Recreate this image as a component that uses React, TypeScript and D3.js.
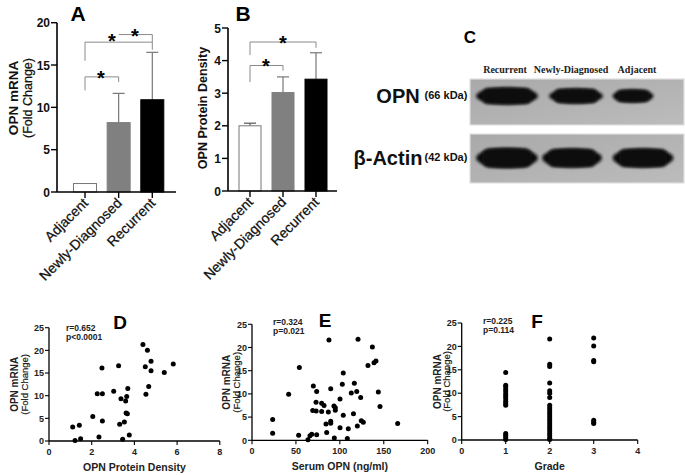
import React from 'react';
import * as d3 from 'd3';

// ---------- Data ----------
const groups = ['Adjacent', 'Newly-Diagnosed', 'Recurrent'];
const barFills = ['#ffffff', '#808080', '#000000'];
const mrnaMean = [1.0, 8.2, 10.9];
const mrnaUpper = [1.0, 11.65, 16.5];
const densityMean = [2.0, 3.02, 3.43];
const densityUpper = [2.08, 3.5, 4.24];
const mrnaTicks = [0, 5, 10, 15, 20];
const densityTicks = [0, 1, 2, 3, 4, 5];

const blotLanes = ['Recurrent', 'Newly-Diagnosed', 'Adjacent'];
const opnBandWidth = [62, 54, 41];
const opnBandHeight = [17, 15, 13];
const opnBandShift = [1, 5, -3];
const actinBandWidth = [62, 60, 61];
const actinBandHeight = [20, 19, 19];
const actinBandShift = [1, 1, 7];

const densityX = [1.11, 1.22, 1.42, 1.48, 2.05, 2.34, 2.26, 2.5, 2.48, 2.5, 3.03, 3.26, 3.31, 3.37, 3.53, 3.45, 3.59, 3.64, 3.61, 3.67, 3.69, 3.76, 4.4, 4.61, 4.51, 4.78, 4.78, 4.67, 4.54, 5.4, 5.82];
const densityY = [3.1, 0.1, 3.5, 0.5, 5.4, 0.9, 10.4, 10.4, 16.1, 4.4, 11.0, 16.6, 3.7, 9.3, 4.2, 0.4, 8.8, 9.8, 6.2, 6.0, 11.6, 1.3, 21.3, 20.0, 16.4, 17.6, 15.5, 12.0, 10.3, 15.1, 17.0];

const serumX = [23.5, 23.5, 41.7, 53.9, 53.1, 63.7, 66, 68, 73.6, 69.8, 73.6, 72.9, 69.1, 73, 79.3, 82, 79.3, 86.9, 84.2, 85, 89.6, 89.6, 87.6, 89.6, 93.3, 94.8, 94.8, 93.7, 100.2, 100.2, 102.8, 103.9, 103.9, 108.5, 109.6, 113, 115.5, 116.5, 119.2, 119.9, 120.7, 123.7, 124.4, 126.7, 132, 137, 138.9, 141.1, 143.8, 145.7, 165.8];
const serumY = [4.5, 1.5, 9.9, 15.7, 1.1, 0.1, 1.0, 1.3, 1.2, 11.7, 10.5, 8.2, 6.4, 6.3, 8.0, 7.5, 6.2, 6.1, 3.5, 1.7, 4.1, 3.7, 21.6, 11.1, 7.4, 7.0, 6.5, 0.5, 2.7, 8.9, 12.1, 14.5, 5.4, 0.4, 2.5, 10.2, 5.7, 12.3, 10.5, 3.1, 21.8, 9.2, 4.2, 3.9, 16.1, 20.1, 16.7, 17.1, 10.4, 7.3, 3.6];

const gradeX = [1, 1, 1, 1, 1, 1, 1, 1, 1, 1, 1, 1, 1, 1, 1,
  2, 2, 2, 2, 2, 2, 2, 2, 2, 2, 2, 2, 2, 2, 2, 2, 2, 2, 2, 2, 2, 2, 2,
  3, 3, 3, 3, 3, 3, 3];
const gradeY = [14.4, 11.7, 11.3, 10.8, 10.3, 9.8, 9.3, 8.8, 8.3, 7.8, 7.4, 1.4, 1.0, 0.6, 0.1,
  21.6, 16.2, 15.7, 12.2, 10.5, 10.0, 9.1, 7.4, 6.9, 6.4, 5.9, 5.4, 4.9, 4.4, 3.9, 3.4, 2.9, 2.4, 1.9, 1.4, 0.9, 0.4, 0.1,
  21.8, 20.1, 17.0, 16.7, 4.2, 3.8, 3.5];

const scatterYTicks = [0, 5, 10, 15, 20, 25];
const densityXTicks = [0, 2, 4, 6, 8];
const serumXTicks = [0, 50, 100, 150, 200];
const gradeTicks = [0, 1, 2, 3, 4];

const SANS = "'Liberation Sans', Arial, sans-serif";
const SERIF = "'Liberation Serif', 'Times New Roman', serif";

// ---------- Bar panel ----------
type Bracket = { a: number; b: number; top: number; legA: number | null; legB: number | null; starX: number; starY: number };

function BarPanel(props: {
  x0: number; x1: number; yBase: number; yTop: number; max: number; ticks: number[];
  c0: number; c1: number; bw: number; means: number[]; uppers: number[];
  label: string[]; labelX: number[]; labelY: number; brackets: Bracket[]; title: string; titleX: number;
}) {
  const { x0, x1, yBase, yTop, max, ticks, c0, c1, bw, means, uppers, label, labelX, labelY, brackets, title, titleX } = props;
  const y = d3.scaleLinear().domain([0, max]).range([yBase, yTop]);
  const x = d3.scalePoint<string>().domain(groups).range([c0, c1]);
  return (
    <g>
      <text x={titleX} y={21} fontFamily={SANS} fontWeight="bold" fontSize={21} textAnchor="middle">{title}</text>
      {groups.map((g, i) => {
        const cx = x(g)!;
        return (
          <g key={g}>
            {uppers[i] > means[i] + 0.01 && (
              <g stroke={i === 0 ? '#555' : '#777'} strokeWidth={1.2}>
                <line x1={cx} x2={cx} y1={y(means[i])} y2={y(uppers[i])} />
                <line x1={cx - 6} x2={cx + 6} y1={y(uppers[i])} y2={y(uppers[i])} />
              </g>
            )}
            <rect x={cx - bw / 2} y={y(means[i])} width={bw} height={yBase - y(means[i])}
              fill={barFills[i]} stroke={i === 0 ? '#777' : barFills[i]} strokeWidth={1} />
          </g>
        );
      })}
      {/* axes */}
      <line x1={x0} x2={x1} y1={yBase} y2={yBase} stroke="#000" strokeWidth={1.6} />
      <line x1={x0} x2={x0} y1={yBase} y2={yTop} stroke="#000" strokeWidth={1.6} />
      {ticks.map(t => (
        <g key={t}>
          <line x1={x0 - 6} x2={x0} y1={y(t)} y2={y(t)} stroke="#000" strokeWidth={1.4} />
          <text x={x0 - 7} y={y(t) + 4.5} textAnchor="end" fontFamily={SANS} fontWeight="bold" fontSize={12} fill="#111">{t}</text>
        </g>
      ))}
      {groups.map(g => (
        <g key={g}>
          <line x1={x(g)!} x2={x(g)!} y1={yBase} y2={yBase + 6} stroke="#000" strokeWidth={1.4} />
          <text transform={`translate(${x(g)! + 4},${yBase + 12}) rotate(-45)`} textAnchor="end"
            fontFamily={SANS} fontSize={14} fill="#111" stroke="#111" strokeWidth={0.25}>{g}</text>
        </g>
      ))}
      {label.map((l, i) => (
        <text key={l} transform={`translate(${labelX[i]},${labelY}) rotate(-90)`} textAnchor="middle"
          fontFamily={SANS} fontWeight={i === 0 ? 'bold' : 'normal'} fontSize={label.length > 1 ? (i === 0 ? 13.5 : 12.5) : 12.5}
          fill="#111" stroke={i === 0 ? 'none' : '#111'} strokeWidth={0.25}>{l}</text>
      ))}
      {brackets.map((br, i) => {
        const xa = x(groups[br.a])!, xb = x(groups[br.b])!;
        return (
          <g key={i}>
            <g stroke="#8a8a8a" strokeWidth={1} fill="none">
              <line x1={xa} x2={xb} y1={y(br.top)} y2={y(br.top)} />
              {br.legA !== null && <line x1={xa} x2={xa} y1={y(br.top)} y2={y(br.legA)} />}
              {br.legB !== null && <line x1={xb} x2={xb} y1={y(br.top)} y2={y(br.legB)} />}
            </g>
            <text x={br.starX} y={y(br.starY) + 12} textAnchor="middle" fontFamily={SANS} fontWeight="bold" fontSize={20}>*</text>
          </g>
        );
      })}
    </g>
  );
}

// ---------- Scatter panel ----------
function Scatter(props: {
  xs: number[]; ys: number[]; xDom: [number, number]; xR: [number, number]; yR: [number, number];
  xTicks: number[]; xLabel: string; title: string; titleX: number; titleY: number;
  stats: string[]; statsX: number; statsY: number; yLabX: [number, number];
}) {
  const { xs, ys, xDom, xR, yR, xTicks, xLabel, title, titleX, titleY, stats, statsX, statsY, yLabX } = props;
  const x = d3.scaleLinear().domain(xDom).range(xR);
  const y = d3.scaleLinear().domain([0, 25]).range(yR);
  const x0 = xR[0];
  const yb = yR[0];
  return (
    <g>
      <line x1={x0} x2={xR[1]} y1={yb} y2={yb} stroke="#000" strokeWidth={1.3} />
      <line x1={x0} x2={x0} y1={yb} y2={yR[1]} stroke="#000" strokeWidth={1.3} />
      {scatterYTicks.map(t => (
        <g key={t}>
          <line x1={x0 - 4} x2={x0} y1={y(t)} y2={y(t)} stroke="#000" strokeWidth={1.1} />
          <text x={x0 - 5} y={y(t) + 3.2} textAnchor="end" fontFamily={SANS} fontWeight="bold" fontSize={9} fill="#222">{t}</text>
        </g>
      ))}
      {xTicks.map(t => (
        <g key={t}>
          <line x1={x(t)} x2={x(t)} y1={yb} y2={yb + 4} stroke="#000" strokeWidth={1.1} />
          <text x={x(t)} y={yb + 14} textAnchor="middle" fontFamily={SANS} fontWeight="bold" fontSize={9} fill="#222">{t}</text>
        </g>
      ))}
      <text x={(xR[0] + xR[1]) / 2} y={yb + 30} textAnchor="middle" fontFamily={SANS} fontWeight="bold" fontSize={10.5} fill="#222">{xLabel}</text>
      <text transform={`translate(${yLabX[0]},${(yR[0] + yR[1]) / 2}) rotate(-90)`} textAnchor="middle" fontFamily={SANS} fontWeight="bold" fontSize={10} fill="#222">OPN mRNA</text>
      <text transform={`translate(${yLabX[1]},${(yR[0] + yR[1]) / 2}) rotate(-90)`} textAnchor="middle" fontFamily={SANS} fontSize={9.5} fill="#222" stroke="#222" strokeWidth={0.2}>(Fold Change)</text>
      <text x={titleX} y={titleY} textAnchor="middle" fontFamily={SANS} fontWeight="bold" fontSize={19}>{title}</text>
      {stats.map((s, i) => (
        <text key={s} x={statsX} y={statsY + i * 9} fontFamily={SANS} fontWeight="bold" fontSize={8.5} fill="#222">{s}</text>
      ))}
      {xs.map((v, i) => (
        <circle key={i} cx={x(v)} cy={y(ys[i])} r={2.5} fill="#000" />
      ))}
    </g>
  );
}

// ---------- Western blot ----------
function Blot() {
  const lane = d3.scalePoint<string>().domain(blotLanes).range([506, 636]);
  const labelPos = d3.scalePoint<string>().domain(blotLanes).range([505, 637]);
  const bx0 = 470, bx1 = 684;
  const rows = [
    { y0: 79, y1: 125, cy: 96, heights: opnBandHeight, widths: opnBandWidth, shifts: opnBandShift, name: 'OPN', kda: '(66 kDa)', nameX: 398 },
    { y0: 134, y1: 183, cy: 158, heights: actinBandHeight, widths: actinBandWidth, shifts: actinBandShift, name: 'β-Actin', kda: '(42 kDa)', nameX: 388 },
  ];
  return (
    <g>
      <defs>
        <filter id="bandBlur" x="-20%" y="-60%" width="140%" height="220%">
          <feGaussianBlur stdDeviation="1.8" />
        </filter>
        <linearGradient id="blotBg" x1="0" x2="1" y1="0" y2="1">
          <stop offset="0" stopColor="#a9a9a9" />
          <stop offset="1" stopColor="#bcbcbc" />
        </linearGradient>
      </defs>
      <text x={470} y={43} textAnchor="middle" fontFamily={SANS} fontWeight="bold" fontSize={17}>C</text>
      {blotLanes.map(l => (
        <text key={l} x={labelPos(l)!} y={73} textAnchor="middle" fontFamily={SERIF} fontWeight="bold" fontSize={10} fill="#222">{l}</text>
      ))}
      {rows.map(r => (
        <g key={r.name}>
          <rect x={bx0} y={r.y0} width={bx1 - bx0} height={r.y1 - r.y0} fill="url(#blotBg)" stroke="#e0e0e0" strokeWidth={1.2} />
          {blotLanes.map((l, i) => (
            <ellipse key={l} cx={lane(l)! + r.shifts[i]} cy={r.cy} rx={r.widths[i] / 2} ry={r.heights[i] / 2}
              fill="#111" filter="url(#bandBlur)" />
          ))}
          {blotLanes.map((l, i) => (
            <rect key={l + 'c'} x={lane(l)! + r.shifts[i] - r.widths[i] * 0.4} y={r.cy - r.heights[i] / 2 + 0.5}
              width={r.widths[i] * 0.8} height={r.heights[i] - 1} rx={r.heights[i] / 3}
              fill="#0d0d0d" filter="url(#bandBlur)" />
          ))}
          <text x={r.nameX} y={r.cy + 7} textAnchor="middle" fontFamily={SANS} fontWeight="bold" fontSize={20} fill="#111">{r.name}</text>
          <text x={446} y={r.cy + 3} textAnchor="middle" fontFamily={SANS} fontWeight="bold" fontSize={11} fill="#111">{r.kda}</text>
        </g>
      ))}
    </g>
  );
}

export default function App() {
  const bracketsA: Bracket[] = [
    { a: 0, b: 1, top: 13.6, legA: 12.0, legB: 13.0, starX: 101, starY: 14.1 },
    { a: 0, b: 2, top: 17.7, legA: 15.5, legB: 16.8, starX: 112, starY: 18.4 },
    { a: 1, b: 2, top: 18.6, legA: null, legB: 17.7, starX: 135, starY: 19.0 },
  ];
  const bracketsB: Bracket[] = [
    { a: 0, b: 1, top: 3.85, legA: 3.34, legB: 3.69, starX: 266, starY: 4.0 },
    { a: 0, b: 2, top: 4.57, legA: 4.17, legB: 4.39, starX: 283, starY: 4.7 },
  ];
  return (
    <svg width={685} height={475} style={{ position: 'absolute', left: 0, top: 0, background: '#fff' }}>
      <rect x={0} y={0} width={685} height={475} fill="#fff" />
      <BarPanel x0={57} x1={176} yBase={192} yTop={22.7} max={20} ticks={mrnaTicks} c0={85} c1={152.3} bw={23}
        means={mrnaMean} uppers={mrnaUpper} label={['OPN mRNA', '(Fold Change)']} labelX={[18, 32]} labelY={98}
        brackets={bracketsA} title="A" titleX={78} />
      <BarPanel x0={228} x1={337} yBase={191} yTop={28} max={5} ticks={densityTicks} c0={250} c1={316} bw={22}
        means={densityMean} uppers={densityUpper} label={['OPN Protein Density']} labelX={[207]} labelY={108}
        brackets={bracketsB} title="B" titleX={243} />
      <Blot />
      <Scatter xs={densityX} ys={densityY} xDom={[0, 8]} xR={[49, 219.8]} yR={[441, 327.7]} xTicks={densityXTicks}
        xLabel="OPN Protein Density" title="D" titleX={120} titleY={329} stats={['r=0.652', 'p<0.0001']} statsX={66} statsY={331}
        yLabX={[18, 28]} />
      <Scatter xs={serumX} ys={serumY} xDom={[0, 200]} xR={[252, 427.7]} yR={[440.3, 324.3]} xTicks={serumXTicks}
        xLabel="Serum OPN (ng/ml)" title="E" titleX={325} titleY={327} stats={['r=0.324', 'p=0.021']} statsX={273} statsY={325}
        yLabX={[230, 240]} />
      <Scatter xs={gradeX} ys={gradeY} xDom={[0, 4]} xR={[461.7, 637.7]} yR={[440, 323]} xTicks={gradeTicks}
        xLabel="Grade" title="F" titleX={537} titleY={328} stats={['r=0.225', 'p=0.114']} statsX={483} statsY={324}
        yLabX={[441, 450]} />
    </svg>
  );
}
